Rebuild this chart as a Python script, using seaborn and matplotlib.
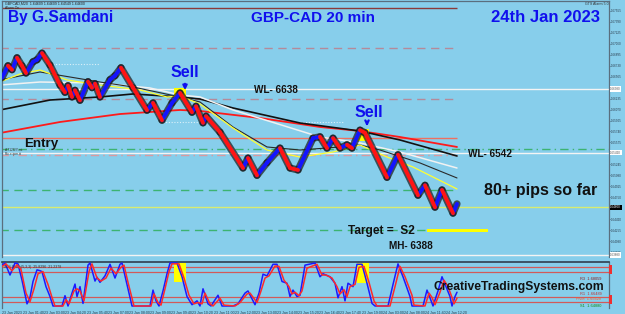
import numpy as np
import pandas as pd
import matplotlib
matplotlib.use("Agg")
import matplotlib.pyplot as plt
import seaborn as sns

sns.set_theme(style="white")
plt.rcParams['font.family'] = ['Liberation Sans', 'DejaVu Sans']

BG = '#87CEEB'
BLUE = '#1010ee'

# ---------------- data ----------------
price_t = [2, 8, 12, 17, 22, 26, 33, 37, 42, 50, 60, 65, 68, 72, 75, 80, 88, 92, 95, 100,
           110, 115, 121, 133, 147, 153, 162, 172, 180, 192, 196, 203, 206, 220, 243, 248, 257, 267, 280, 290,
           298, 313, 320, 327, 333, 340, 347, 352, 360, 365, 387, 398, 418, 425, 435, 442, 453, 457]
price_v = [1.6655, 1.6673, 1.6667, 1.6685, 1.6673, 1.6662, 1.6679, 1.6682, 1.6692, 1.6674,
           1.6644, 1.6633, 1.6643, 1.6626, 1.6636, 1.6621, 1.6649, 1.6640, 1.6646, 1.6626,
           1.6652, 1.6658, 1.6670, 1.6640, 1.6606, 1.6617, 1.6591, 1.6617, 1.6632, 1.6603,
           1.6612, 1.6587, 1.6597, 1.6573, 1.6519, 1.6534, 1.6508, 1.6527, 1.6549, 1.6519,
           1.6516, 1.6564, 1.6566, 1.6549, 1.6564, 1.6549, 1.6554, 1.6549, 1.6576, 1.6572,
           1.6505, 1.6539, 1.6478, 1.6493, 1.6460, 1.6486, 1.6451, 1.6465]

ma_red_t = [0, 60, 120, 180, 200, 260, 320, 360, 400, 457]
ma_red_v = [1.65717, 1.65883, 1.66003, 1.66064, 1.66049, 1.65943, 1.65808, 1.65747, 1.65657, 1.65507]

ma_black_t = [0, 50, 100, 133, 180, 200, 233, 300, 360, 400, 457]
ma_black_v = [1.66064, 1.66214, 1.66260, 1.66305, 1.66260, 1.66229, 1.66094, 1.65868, 1.65747, 1.65612, 1.65371]

ma_white_t = [0, 40, 100, 150, 180, 200, 233, 320, 360, 400, 457]
ma_white_v = [1.66440, 1.66485, 1.66470, 1.66395, 1.66290, 1.66260, 1.66064, 1.65657, 1.65567, 1.65431, 1.65190]

ma_dark_t = [0, 40, 100, 133, 180, 200, 233, 267, 300, 340, 360, 380, 420, 457]
ma_dark_v = [1.66516, 1.66636, 1.66485, 1.66410, 1.66260, 1.66184, 1.65808, 1.65507, 1.65461, 1.65507,
             1.65537, 1.65461, 1.65266, 1.65040]

ma_yellow_t = [0, 20, 40, 67, 100, 140, 167, 180, 200, 233, 267, 300, 333, 360, 387, 413, 457]
ma_yellow_v = [1.66485, 1.66606, 1.66666, 1.66516, 1.66440, 1.66365, 1.66260, 1.66275, 1.66154, 1.65793,
               1.65461, 1.65356, 1.65431, 1.65537, 1.65356, 1.65205, 1.64874]

# horizontal levels: price, end time, colour, style
level_price = [1.6760, 1.6700, 1.6638, 1.6623, 1.6564, 1.6548, 1.6542, 1.6539, 1.6486, 1.6460, 1.6426, 1.6388]
level_end = [457, 457, 609, 457, 457, 609, 609, 457, 457, 609, 457, 609]
level_color = ['#8b3a3a', '#b48a9a', '#f4f4f4', '#b48a9a', '#ee7060', '#3cb371', '#f4f4f4', '#d89aa0',
               '#3cb371', '#d8ec70', '#3cb371', '#f4f4f4']
level_style = ['-', (0, (6, 4)), '-', (0, (6, 4)), '-', (0, (6, 3, 1, 3)), '-', (0, (6, 3, 1, 3)),
               (0, (6, 4)), '-', (0, (6, 4)), '-']

dotted_price = [1.66756, 1.65883, 1.65883]
dotted_start = [50, 160, 300]
dotted_end = [100, 210, 343]

sell_t = [180, 363]
sell_p = [1.6631, 1.6569]

price_ticks = [1.67555, 1.67390, 1.67225, 1.67060, 1.66895, 1.66730, 1.66565, 1.66235, 1.66070,
               1.65905, 1.65740, 1.65575, 1.65245, 1.65080, 1.64915, 1.64750, 1.64420, 1.64255,
               1.64090, 1.63925]
box_prices = [1.66380, 1.65420, 1.63880]
current_price = 1.64600

# stochastic oscillator
k_t = [2, 5, 10, 15, 18, 22, 27, 30, 33, 37, 40, 42, 46, 50, 53, 62, 65, 68, 72, 75, 77, 80, 83, 88, 90,
       95, 97, 100, 105, 110, 115, 120, 122, 126, 132, 150, 153, 156, 159, 163, 167, 170, 177, 182, 187,
       192, 197, 200, 203, 208, 211, 218, 222, 233, 238, 245, 248, 255, 259, 263, 267, 273, 277, 282, 287,
       290, 293, 297, 300, 305, 315, 320, 323, 330, 335, 338, 342, 345, 348, 353, 357, 362, 367, 372, 375,
       388, 393, 398, 403, 410, 412, 423, 427, 430, 433, 438, 442, 446, 450, 452, 455, 457]
k_v = [95, 100, 72, 100, 98, 60, 5, 20, 57, 84, 82, 80, 45, 22, 0, 0, 24, 0, 30, 51, 22, 45, 6, 95, 100,
       58, 67, 55, 70, 97, 65, 97, 100, 60, 0, 0, 37, 12, 0, 35, 75, 100, 100, 68, 22,
       3, 12, 0, 40, 5, 0, 25, 0, 0, 5, 30, 35, 3, 30, 74, 70, 97, 97, 57, 53,
       22, 37, 22, 25, 95, 100, 68, 75, 68, 53, 19, 45, 12, 53, 45, 97, 97, 53, 6, 0,
       0, 50, 98, 68, 22, 0, 0, 37, 19, 0, 35, 68, 45, 22, 0, 22, 32]
d_t = [2, 6, 12, 17, 21, 26, 30, 34, 38, 43, 48, 52, 55, 63, 66, 69, 74, 77, 80, 84, 89, 92, 97, 101, 106,
       111, 116, 121, 124, 128, 134, 151, 154, 158, 161, 165, 169, 172, 179, 184, 189, 194, 198, 202, 205,
       210, 213, 220, 224, 235, 240, 247, 250, 257, 261, 265, 269, 275, 279, 284, 289, 292, 295, 299, 302,
       307, 317, 322, 326, 332, 337, 340, 344, 347, 350, 355, 359, 364, 369, 374, 377, 390, 395, 400, 405,
       412, 414, 425, 429, 432, 435, 440, 444, 448, 452, 454, 457]
d_v = [92, 98, 82, 96, 85, 30, 10, 40, 75, 80, 50, 20, 0, 0, 15, 5, 35, 40, 35, 12, 80, 98, 65, 58, 65,
       88, 75, 90, 95, 55, 0, 0, 28, 8, 2, 40, 80, 98, 98, 65, 25, 5, 8, 5, 30,
       5, 0, 18, 2, 0, 8, 28, 30, 8, 35, 65, 70, 93, 92, 60, 45, 28, 32, 24, 35,
       88, 97, 72, 72, 65, 45, 28, 38, 22, 45, 50, 90, 92, 55, 12, 0, 0, 45, 92, 68,
       25, 2, 0, 30, 20, 3, 32, 60, 45, 20, 5, 18]
stoch_levels = [90, 80, 20, 10]
hl_start = [174, 357]
hl_end = [186, 369]
hl_low = [55, 53]

time_pos = [2, 23, 44, 65, 87, 108, 129, 150, 171, 192, 214, 235, 256, 277, 298, 319, 340, 362, 383,
            404, 425, 446]
time_labels = ["23 Jan 2023", "23 Jan 01:40", "23 Jan 03:00", "23 Jan 04:20", "23 Jan 05:40",
               "23 Jan 07:00", "23 Jan 08:00", "23 Jan 09:00", "23 Jan 09:40", "23 Jan 10:20",
               "23 Jan 11:00", "23 Jan 12:00", "23 Jan 13:00", "23 Jan 14:00", "23 Jan 15:20",
               "23 Jan 16:40", "23 Jan 17:40", "23 Jan 19:00", "24 Jan 03:00", "24 Jan 08:00",
               "24 Jan 11:40", "24 Jan 12:20"]

assert len(price_t) == len(price_v)
assert len(k_t) == len(k_v) and len(d_t) == len(d_v)

# ---------------- figure ----------------
W, H = 625, 314
fig = plt.figure(figsize=(6.25, 3.14), dpi=100, facecolor=BG)
ax = fig.add_axes([2 / W, 57 / H, 607 / W, 256 / H], facecolor=BG)
osc = fig.add_axes([2 / W, 6 / H, 607 / W, 46 / H], facecolor=BG)


def ftext(px, py, s, **kw):
    fig.text(px / W, 1 - py / H, s, **kw)


# horizontal levels
for p, e, c, ls in zip(level_price, level_end, level_color, level_style):
    ax.hlines(p, 0, e, colors=c, linestyles=ls, lw=1.0, zorder=1)
for p, s, e in zip(dotted_price, dotted_start, dotted_end):
    ax.hlines(p, s, e, colors='white', linestyles=(0, (1, 1.5)), lw=0.8, alpha=0.7, zorder=1)

# moving averages
sns.lineplot(x=ma_red_t, y=ma_red_v, color='#ff1a1a', lw=1.3, sort=False, ax=ax, zorder=2)
sns.lineplot(x=ma_black_t, y=ma_black_v, color='#111111', lw=1.2, sort=False, ax=ax, zorder=2)
sns.lineplot(x=ma_white_t, y=ma_white_v, color='#f2f2f2', lw=1.1, sort=False, ax=ax, zorder=2)
sns.lineplot(x=ma_dark_t, y=ma_dark_v, color='#2a2a2a', lw=0.8, sort=False, ax=ax, zorder=2)
sns.lineplot(x=ma_yellow_t, y=ma_yellow_v, color='#ffff30', lw=0.9, sort=False, ax=ax, zorder=2)

# sell highlight
ax.scatter(sell_t, sell_p, marker='s', s=70, color='#ffff00', zorder=3, linewidths=0)

# price path as up / down segments
rows = []
for i in range(len(price_t) - 1):
    d = 'up' if price_v[i + 1] > price_v[i] else 'down'
    rows.append((i, price_t[i], price_v[i], d))
    rows.append((i, price_t[i + 1], price_v[i + 1], d))
seg = pd.DataFrame(rows, columns=['seg', 't', 'price', 'dir'])
sns.lineplot(data=seg, x='t', y='price', units='seg', estimator=None, color='#1a1a1a', lw=5.2,
             alpha=0.7, sort=False, legend=False, ax=ax, zorder=4)
sns.lineplot(data=seg, x='t', y='price', units='seg', hue='dir', estimator=None,
             palette={'up': '#1414ff', 'down': '#ff1414'}, lw=2.8, sort=False, legend=False, ax=ax,
             zorder=5)

ax.set_xlim(2, 609)
ax.set_ylim(1.63850, 1.67705)
ax.set_xlabel('')
ax.set_ylabel('')
ax.set_xticks([])
ax.yaxis.tick_right()
ax.set_yticks(price_ticks)
ax.set_yticklabels([f"{p:.5f}" for p in price_ticks])
ax.tick_params(axis='y', labelsize=2.2, colors='#2a3a4a', length=1.0, width=0.5, pad=0.6)
for side in ['top', 'left', 'right']:
    ax.spines[side].set_color('#5a6e7e')
    ax.spines[side].set_linewidth(0.9)
ax.spines['bottom'].set_visible(False)

for p in box_prices:
    ax.text(1.002, p, f"{p:.5f}", transform=ax.get_yaxis_transform(), fontsize=2.2, va='center',
            color='#555555', bbox=dict(fc='white', ec='none', pad=0.4))
ax.text(1.002, current_price, f"{current_price:.5f}", transform=ax.get_yaxis_transform(), fontsize=2.2,
        va='center', color='white', bbox=dict(fc='black', ec='none', pad=0.4))

# ---------------- oscillator ----------------
for lv in stoch_levels:
    osc.axhline(lv, color='#d25a5a', lw=0.9, zorder=1)
for s, e, lo in zip(hl_start, hl_end, hl_low):
    osc.fill_between([s, e], lo, 100, color='#ffff00', lw=0, zorder=2)
sns.lineplot(x=k_t, y=k_v, color='#1a1aff', lw=1.1, sort=False, ax=osc, zorder=3)
sns.lineplot(x=d_t, y=d_v, color='#ff2a2a', lw=1.1, sort=False, ax=osc, zorder=4)
osc.set_xlim(2, 609)
osc.set_ylim(-4.65, 102.3)
osc.set_yticks([])
osc.set_xlabel('')
osc.set_ylabel('')
osc.set_xticks(time_pos)
osc.set_xticklabels(time_labels)
osc.tick_params(axis='x', labelsize=2.6, colors='#2a3a4a', length=1.5, width=0.5, pad=0.8)
for lab in osc.get_xticklabels():
    lab.set_ha('left')
osc.spines['top'].set_color('#2f3f4f')
osc.spines['top'].set_linewidth(1.2)
for side in ['left', 'right']:
    osc.spines[side].set_color('#5a6e7e')
    osc.spines[side].set_linewidth(0.9)
osc.spines['bottom'].set_visible(False)
for lv in stoch_levels:
    osc.text(1.001, lv, "  ", transform=osc.get_yaxis_transform(), fontsize=2.5, va='center',
             bbox=dict(fc='#ee3030', ec='none', pad=0.5))
osc.text(0.004, 0.93, "SLS Stoch(5,3,3)  25.8296  21.2378", transform=osc.transAxes, fontsize=2.6,
         color='#333333', va='top')

# ---------------- texts ----------------
bold = dict(fontweight='bold', va='baseline')
ftext(5, 4, "GBPCAD,M20  1.64609 1.64609 1.64549 1.64600", fontsize=2.6, color='#222222', va='center')
ftext(5, 8, "Alarm On", fontsize=2.4, color='#222222', va='center')
ftext(585, 4, "GTS Alarm 5.0", fontsize=2.6, color='#333333', va='center')

ftext(8, 22, "By G.Samdani", color=BLUE, fontsize=11.2, **bold)
ftext(251, 22, "GBP-CAD 20 min", color=BLUE, fontsize=11.0, **bold)
ftext(491, 22, "24th Jan 2023", color=BLUE, fontsize=12.0, **bold)

ftext(185, 77, "Sell", color=BLUE, fontsize=11.5, ha='center', **bold)
ftext(369, 117, "Sell", color=BLUE, fontsize=11.5, ha='center', **bold)
for ax_, y0, y1 in [(185, 81, 93), (367, 119, 129)]:
    fig.add_artist(matplotlib.patches.FancyArrowPatch(
        (ax_ / W, 1 - y0 / H), (ax_ / W, 1 - y1 / H), transform=fig.transFigure,
        arrowstyle='->', mutation_scale=6, color=BLUE, lw=1.6))

ftext(254, 93, "WL- 6638", color='#111111', fontsize=7.2, **bold)
ftext(468, 157, "WL- 6542", color='#111111', fontsize=7.2, **bold)
ftext(24, 147, "Entry", color='#111111', fontsize=9.6, **bold)
ftext(484, 195, "80+ pips so far", color='#111111', fontsize=11.6, **bold)
ftext(348, 234, "Target =  S2", color='#111111', fontsize=8.6, **bold)
ftext(389, 249, "MH- 6388", color='#111111', fontsize=7.2, **bold)
fig.add_artist(matplotlib.patches.Rectangle((427 / W, 1 - 232 / H), 61 / W, 3.5 / H,
                                            transform=fig.transFigure, color='#ffff00', lw=0))
ftext(5, 150, "A7120/Y.mt", fontsize=2.4, color='#333333', va='center')
ftext(5, 154, "R.c.c.ipm.tt", fontsize=2.4, color='#333333', va='center')

ftext(580, 279, "R3  1.68059", fontsize=2.8, color='#8b1a1a', va='center')
ftext(580, 294, "R1  1.66489", fontsize=2.8, color='#c03030', va='center')
ftext(576, 299, "Pivot  1.65628", fontsize=2.8, color='#ff5a2a', va='center')
ftext(580, 306, "S1  1.64880", fontsize=2.8, color='#108a10', va='center')
ftext(433, 290, "CreativeTradingSystems.com", color='#111111', fontsize=8.7, **bold)

fig.savefig("out.png", dpi=100, facecolor=BG)
